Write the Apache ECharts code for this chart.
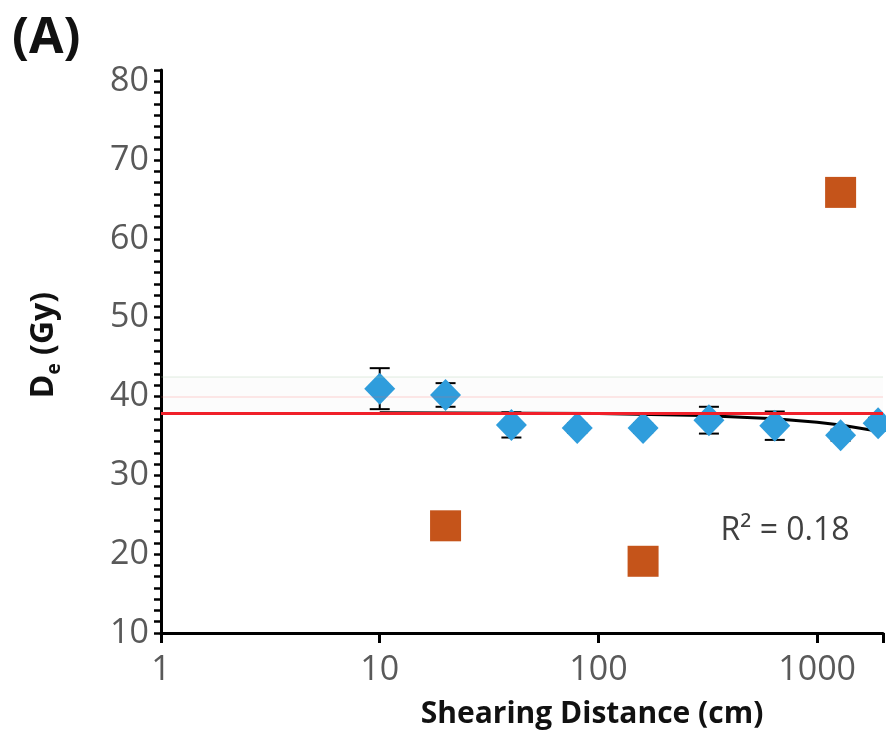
<!DOCTYPE html>
<html>
<head>
<meta charset="utf-8">
<script src="https://cdn.jsdelivr.net/npm/echarts@6/dist/echarts.min.js"></script>
<style>
html,body{margin:0;padding:0;background:#fff;}
#chart{width:886px;height:753px;}
</style>
</head>
<body>
<div id="chart"></div>
<script>
// ---- data ----
const xValues   = [10, 20, 40, 80, 160, 320, 640, 1280, 1900];
const deValues  = [41.0, 40.2, 36.4, 36.0, 36.0, 37.0, 36.3, 35.1, 36.6];
const deErrors  = [2.6, 1.5, 1.6, 0.6, 0.6, 1.7, 1.8, 0.7, 0.7];
const outlierX  = [20, 160, 1280];
const outlierY  = [23.6, 19.1, 65.9];
const trendX    = [10, 100, 300, 640, 1000, 1280, 2000];
const trendY    = [37.95, 37.84, 37.59, 37.17, 36.73, 36.39, 35.5];
const meanDe    = 37.9;
const faintLines = [40.0, 42.5];
const xTickLabels = ['1', '10', '100', '1000'];
const yTickLabels = ['10', '20', '30', '40', '50', '60', '70', '80'];
const rSquared  = 'R² = 0.18';

const FONT = '"Open Sans", "DejaVu Sans", sans-serif';
const chart = echarts.init(document.getElementById('chart'), null, {renderer: 'canvas'});

const mainData = xValues.map((x, i) => [x, deValues[i]]);
const errData = xValues.map((x, i) => [x, deValues[i] - deErrors[i], deValues[i] + deErrors[i]]);
const outData = outlierX.map((x, i) => [x, outlierY[i]]);
const trendData = trendX.map((x, i) => [x, trendY[i]]);

const yStep = 10 / 7;

chart.setOption({
  animation: false,
  backgroundColor: '#fff',
  grid: {left: 161, right: 0, top: 70, bottom: 120, containLabel: false},
  xAxis: {
    type: 'log', logBase: 10, min: 1, max: 2000,
    axisLine: {show: true, lineStyle: {color: '#000', width: 3}},
    axisTick: {show: true, length: 10, lineStyle: {color: '#000', width: 3}},
    minorTick: {show: false},
    splitLine: {show: false},
    axisLabel: {
      show: true, margin: 20, fontSize: 34, color: '#595959', fontFamily: FONT,
      formatter: function (v) {
        const l = Math.log10(v);
        if (Math.abs(l - Math.round(l)) < 1e-6) {
          const s = String(Math.round(v));
          return xTickLabels.indexOf(s) >= 0 ? s : '';
        }
        return '';
      }
    }
  },
  yAxis: {
    type: 'value', min: 10, max: 10 + 50 * yStep, interval: yStep,
    axisLine: {show: true, lineStyle: {color: '#000', width: 3}},
    axisTick: {show: true, length: 7, interval: 0, lineStyle: {color: '#000', width: 2.5}},
    splitLine: {show: false},
    axisLabel: {
      show: true, interval: 0, margin: 12, fontSize: 34, color: '#595959', fontFamily: FONT,
      formatter: function (v) {
        const r = Math.round(v / 10) * 10;
        if (Math.abs(v - r) < 1e-6) {
          const s = String(r);
          return yTickLabels.indexOf(s) >= 0 ? s : '';
        }
        return '';
      }
    }
  },
  series: [
    {
      type: 'line', name: 'ref', data: [], silent: true,
      markArea: {
        silent: true,
        itemStyle: {color: 'rgba(0,0,0,0.012)'},
        data: [[{yAxis: meanDe}, {yAxis: faintLines[1]}]]
      },
      markLine: {
        silent: true, symbol: ['none', 'none'], label: {show: false},
        data: [
          {yAxis: faintLines[0], lineStyle: {color: 'rgba(255,90,90,0.18)', width: 1.5, type: 'solid'}},
          {yAxis: faintLines[1], lineStyle: {color: 'rgba(170,200,170,0.22)', width: 1.5, type: 'solid'}},
          {yAxis: meanDe, lineStyle: {color: '#f0202a', width: 3, type: 'solid'}}
        ]
      },
      z: 1
    },
    {
      type: 'line', name: 'trend', data: trendData, showSymbol: false, symbol: 'none',
      lineStyle: {color: '#000', width: 3}, z: 2, silent: true
    },
    {
      type: 'custom', name: 'err', data: errData, z: 3, silent: true,
      renderItem: function (params, api) {
        const x = api.value(0);
        const lo = api.coord([x, api.value(1)]);
        const hi = api.coord([x, api.value(2)]);
        const w = 10;
        const st = {stroke: '#000', lineWidth: 2};
        return {
          type: 'group',
          children: [
            {type: 'line', shape: {x1: lo[0], y1: lo[1], x2: hi[0], y2: hi[1]}, style: st},
            {type: 'line', shape: {x1: lo[0] - w, y1: lo[1], x2: lo[0] + w, y2: lo[1]}, style: st},
            {type: 'line', shape: {x1: hi[0] - w, y1: hi[1], x2: hi[0] + w, y2: hi[1]}, style: st}
          ]
        };
      }
    },
    {
      type: 'scatter', name: 'De', data: mainData, symbol: 'diamond', symbolSize: [31, 32],
      itemStyle: {color: '#2f9ddc', opacity: 1}, z: 4, clip: false
    },
    {
      type: 'scatter', name: 'outliers', data: outData, symbol: 'rect', symbolSize: 31,
      itemStyle: {color: '#c5541a', opacity: 1}, z: 4
    }
  ],
  graphic: [
    {
      type: 'text', left: 12, top: 14,
      style: {text: '(A)', font: 'bold 50px ' + FONT, fill: '#111'}
    },
    {
      type: 'text', x: 592, y: 714,
      style: {text: 'Shearing Distance (cm)', font: 'bold 30px ' + FONT, fill: '#111',
              align: 'center', verticalAlign: 'middle'}
    },
    {
      type: 'text', x: 44, y: 345, rotation: Math.PI / 2,
      style: {
        text: '{b|D}{s|e}{b| (Gy)}', align: 'center', verticalAlign: 'middle',
        rich: {
          b: {font: 'bold 32px ' + FONT, fill: '#111', lineHeight: 40, verticalAlign: 'middle'},
          s: {font: 'bold 19px ' + FONT, fill: '#111', lineHeight: 20, verticalAlign: 'bottom'}
        }
      }
    },
    {
      type: 'text', x: 785, y: 531,
      style: {text: rSquared, font: '32px ' + FONT, fill: '#404040', align: 'center', verticalAlign: 'middle'}
    }
  ]
});
</script>
</body>
</html>
